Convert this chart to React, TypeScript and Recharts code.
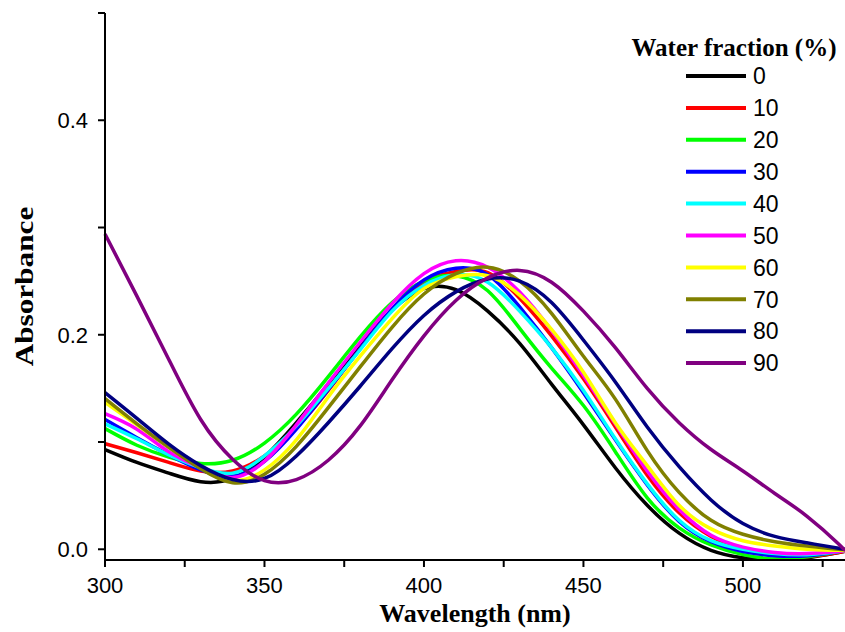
import { LineChart, Line, XAxis, YAxis } from "recharts";

const wavelengths = [300, 310, 320, 330, 340, 350, 360, 370, 380, 390, 400, 410, 420, 430, 440, 450, 460, 470, 480, 490, 500, 510, 520, 530, 532];

const water0 = [0.093, 0.081, 0.071, 0.063, 0.066, 0.086, 0.118, 0.154, 0.191, 0.223, 0.243, 0.242, 0.222, 0.192, 0.154, 0.116, 0.076, 0.041, 0.015, -0.001, -0.008, -0.010, -0.008, -0.003, -0.002];
const water10 = [0.0985, 0.090, 0.081, 0.073, 0.073, 0.087, 0.113, 0.148, 0.187, 0.223, 0.249, 0.259, 0.258, 0.234, 0.199, 0.159, 0.114, 0.069, 0.034, 0.012, 0.000, -0.006, -0.007, -0.003, -0.001];
const water20 = [0.1125, 0.097, 0.086, 0.080, 0.083, 0.099, 0.126, 0.161, 0.198, 0.230, 0.250, 0.255, 0.241, 0.206, 0.169, 0.134, 0.091, 0.048, 0.020, 0.004, -0.005, -0.009, -0.007, -0.002, -0.001];
const water30 = [0.121, 0.104, 0.088, 0.074, 0.068, 0.082, 0.112, 0.149, 0.187, 0.224, 0.251, 0.262, 0.256, 0.226, 0.188, 0.146, 0.102, 0.060, 0.026, 0.007, -0.002, -0.006, -0.006, -0.002, -0.001];
const water40 = [0.117, 0.103, 0.088, 0.076, 0.071, 0.087, 0.115, 0.150, 0.186, 0.222, 0.246, 0.256, 0.249, 0.222, 0.188, 0.148, 0.103, 0.061, 0.027, 0.008, 0.000, -0.004, -0.005, -0.002, -0.001];
const water50 = [0.1265, 0.112, 0.091, 0.076, 0.067, 0.082, 0.116, 0.155, 0.193, 0.229, 0.257, 0.269, 0.263, 0.240, 0.204, 0.162, 0.117, 0.073, 0.037, 0.013, 0.002, -0.003, -0.004, -0.002, -0.001];
const water60 = [0.137, 0.116, 0.095, 0.076, 0.064, 0.074, 0.102, 0.142, 0.180, 0.215, 0.243, 0.254, 0.255, 0.237, 0.205, 0.165, 0.118, 0.078, 0.041, 0.019, 0.008, 0.003, 0.000, -0.001, -0.001];
const water70 = [0.1405, 0.117, 0.095, 0.075, 0.062, 0.070, 0.096, 0.132, 0.170, 0.207, 0.238, 0.257, 0.263, 0.250, 0.220, 0.180, 0.140, 0.092, 0.053, 0.027, 0.014, 0.007, 0.003, 0.000, 0.000];
const water80 = [0.146, 0.122, 0.098, 0.078, 0.065, 0.066, 0.087, 0.118, 0.152, 0.187, 0.218, 0.240, 0.252, 0.250, 0.230, 0.195, 0.156, 0.114, 0.077, 0.046, 0.024, 0.012, 0.006, 0.001, 0.000];
const water90 = [0.294, 0.236, 0.177, 0.121, 0.084, 0.064, 0.065, 0.083, 0.115, 0.158, 0.199, 0.232, 0.253, 0.260, 0.249, 0.222, 0.188, 0.150, 0.118, 0.093, 0.073, 0.052, 0.031, 0.005, -0.002];

const fractions = ["0", "10", "20", "30", "40", "50", "60", "70", "80", "90"];
const colors = ["#000000", "#ff0000", "#00ff00", "#0000ff", "#00ffff", "#ff00ff", "#ffff00", "#808000", "#000080", "#800080"];
const series = [water0, water10, water20, water30, water40, water50, water60, water70, water80, water90];

const xTicks = [300, 325, 350, 375, 400, 425, 450, 475, 500, 525];
const yTicks = [0, 0.1, 0.2, 0.3, 0.4, 0.5];

const data = wavelengths.map((nm, i) => {
  const row: Record<string, number> = { nm };
  series.forEach((s, k) => {
    row["w" + fractions[k]] = s[i];
  });
  return row;
});

const sans = "'Liberation Sans', Arial, sans-serif";
const serif = "'Liberation Serif', 'Times New Roman', serif";

function XTick({ x, y, payload }: any) {
  if (payload.value % 50 !== 0) return <g />;
  return (
    <text x={x} y={y} dy="0.71em" textAnchor="middle" fontSize={22} fontFamily={sans} fill="#000">
      {payload.value}
    </text>
  );
}

function YTick({ x, y, payload }: any) {
  const tenths = Math.round(payload.value * 10);
  if (tenths % 2 !== 0) return <g />;
  return (
    <text x={x} y={y} dy="0.355em" textAnchor="end" fontSize={22} fontFamily={sans} fill="#000">
      {payload.value.toFixed(1)}
    </text>
  );
}

// the y title in the reference is drawn stretched along its length
function YTitle({ viewBox }: any) {
  const cy = viewBox.y + viewBox.height / 2;
  return (
    <text
      transform={`translate(33, ${cy}) scale(1, 1.25) rotate(-90)`}
      textAnchor="middle"
      fontFamily={serif}
      fontWeight="bold"
      fontSize={25}
      fill="#000"
    >
      Absorbance
    </text>
  );
}

function WaterLegend() {
  return (
    <svg width={230} height={370} style={{ position: "absolute", left: 620, top: 20 }}>
      <text x={114} y={36} textAnchor="middle" fontFamily={serif} fontWeight="bold" fontSize={25}>
        Water fraction (%)
      </text>
      {fractions.map((f, i) => (
        <g key={f}>
          <line x1={66} x2={126} y1={56 + i * 31.9} y2={56 + i * 31.9} stroke={colors[i]} strokeWidth={4} />
          <text x={133} y={56 + i * 31.9} dy="0.36em" fontSize={23} fontFamily={sans} fill="#000">
            {f}
          </text>
        </g>
      ))}
    </svg>
  );
}

export default function App() {
  return (
    <div style={{ position: "absolute", left: 0, top: 0, width: 845, height: 632, background: "#fff" }}>
      <LineChart width={845} height={632} data={data} margin={{ top: 13, right: 0, bottom: 0, left: 0 }}>
        <XAxis
          dataKey="nm"
          type="number"
          domain={[300, 532]}
          ticks={xTicks}
          height={72}
          tickSize={7}
          tickMargin={10}
          axisLine={{ stroke: "#000", strokeWidth: 2 }}
          tickLine={{ stroke: "#000", strokeWidth: 2 }}
          tick={<XTick />}
          label={{
            value: "Wavelength (nm)",
            position: "insideBottom",
            offset: 10,
            style: { fontFamily: serif, fontWeight: "bold", fontSize: 26, fill: "#000" },
          }}
        />
        <YAxis
          type="number"
          domain={[-0.01, 0.5]}
          ticks={yTicks}
          allowDataOverflow
          width={105}
          tickSize={7}
          tickMargin={10}
          axisLine={{ stroke: "#000", strokeWidth: 2 }}
          tickLine={{ stroke: "#000", strokeWidth: 2 }}
          tick={<YTick />}
          label={{ content: YTitle }}
        />
        {fractions.map((f, i) => (
          <Line
            key={f}
            dataKey={"w" + f}
            name={f}
            type="natural"
            stroke={colors[i]}
            strokeWidth={3.5}
            dot={false}
            isAnimationActive={false}
          />
        ))}
      </LineChart>
      <WaterLegend />
    </div>
  );
}
